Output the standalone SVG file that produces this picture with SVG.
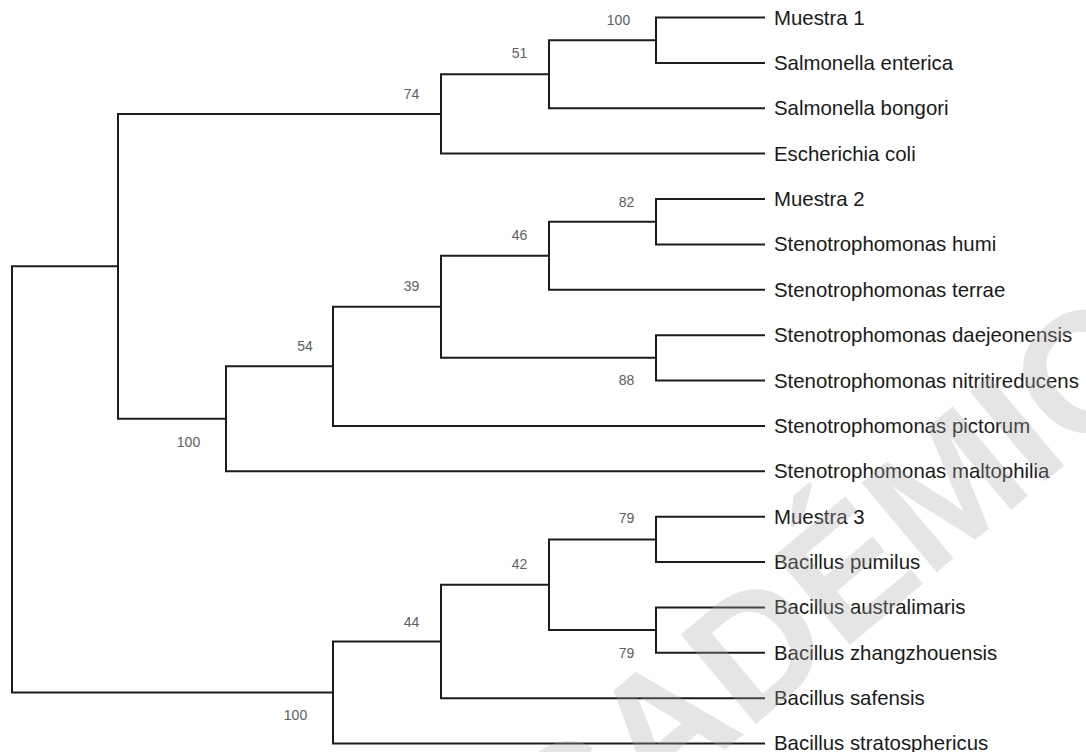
<svg xmlns="http://www.w3.org/2000/svg" width="1086" height="752" viewBox="0 0 1086 752">
<style>
.edge{fill:none;stroke:#1c1c1c;stroke-width:2;stroke-linecap:square;stroke-linejoin:miter}
.tip{font-family:"Liberation Sans",Arial,sans-serif;font-size:20.4px;fill:#1a1a1a}
.bs{font-family:"Liberation Sans",Arial,sans-serif;font-size:14px;fill:#5e5e63;text-anchor:middle}
.wm{font-family:"Liberation Sans",Arial,sans-serif;font-weight:bold;font-size:170px;fill:#a8a8a8;fill-opacity:0.3}
</style>
<rect x="0" y="0" width="1086" height="752" fill="#ffffff"/>
<g id="connectors">
<path class="edge" d="M764 17.5 H656 V62.9 H764"/>
<path class="edge" d="M656 40.2 H549 V108.3 H764"/>
<path class="edge" d="M549 74.25 H441 V153.6 H764"/>
<path class="edge" d="M764 199 H656 V244.4 H764"/>
<path class="edge" d="M656 221.7 H549 V289.8 H764"/>
<path class="edge" d="M764 335.2 H656 V380.5 H764"/>
<path class="edge" d="M549 255.75 H441 V357.85 H656"/>
<path class="edge" d="M441 306.8 H333 V425.9 H764"/>
<path class="edge" d="M333 366.35 H226 V471.3 H764"/>
<path class="edge" d="M441 113.9 H118 V418.8 H226"/>
<path class="edge" d="M764 516.7 H656 V562.1 H764"/>
<path class="edge" d="M764 607.4 H656 V652.8 H764"/>
<path class="edge" d="M656 539.4 H549 V630.1 H656"/>
<path class="edge" d="M549 584.75 H441 V698.2 H764"/>
<path class="edge" d="M441 641.5 H333 V743.6 H764"/>
<path class="edge" d="M118 266.35 H12 V692.55 H333"/>
</g>
<g id="tip-muestra1"><text class="tip" x="774" y="24.5">Muestra 1</text></g>
<g id="tip-salmonella-enterica"><text class="tip" x="774" y="69.9">Salmonella enterica</text></g>
<g id="tip-salmonella-bongori"><text class="tip" x="774" y="115.3">Salmonella bongori</text></g>
<g id="tip-escherichia-coli"><text class="tip" x="774" y="160.6">Escherichia coli</text></g>
<g id="tip-muestra2"><text class="tip" x="774" y="206">Muestra 2</text></g>
<g id="tip-steno-humi"><text class="tip" x="774" y="251.4">Stenotrophomonas humi</text></g>
<g id="tip-steno-terrae"><text class="tip" x="774" y="296.8">Stenotrophomonas terrae</text></g>
<g id="tip-steno-daejeonensis"><text class="tip" x="774" y="342.2">Stenotrophomonas daejeonensis</text></g>
<g id="tip-steno-nitritireducens"><text class="tip" x="774" y="387.5">Stenotrophomonas nitritireducens</text></g>
<g id="tip-steno-pictorum"><text class="tip" x="774" y="432.9">Stenotrophomonas pictorum</text></g>
<g id="tip-steno-maltophilia"><text class="tip" x="774" y="478.3">Stenotrophomonas maltophilia</text></g>
<g id="tip-muestra3"><text class="tip" x="774" y="523.7">Muestra 3</text></g>
<g id="tip-bacillus-pumilus"><text class="tip" x="774" y="569.1">Bacillus pumilus</text></g>
<g id="tip-bacillus-australimaris"><text class="tip" x="774" y="614.4">Bacillus australimaris</text></g>
<g id="tip-bacillus-zhangzhouensis"><text class="tip" x="774" y="659.8">Bacillus zhangzhouensis</text></g>
<g id="tip-bacillus-safensis"><text class="tip" x="774" y="705.2">Bacillus safensis</text></g>
<g id="tip-bacillus-stratosphericus"><text class="tip" x="774" y="749.5">Bacillus stratosphericus</text></g>
<g id="node-100-salmonella"><text class="bs" x="618.5" y="25">100</text></g>
<g id="node-51"><text class="bs" x="519.5" y="58.3">51</text></g>
<g id="node-74"><text class="bs" x="411.5" y="99.3">74</text></g>
<g id="node-82"><text class="bs" x="626.5" y="206.7">82</text></g>
<g id="node-46"><text class="bs" x="519.5" y="240">46</text></g>
<g id="node-39"><text class="bs" x="411.5" y="291">39</text></g>
<g id="node-54"><text class="bs" x="305" y="350.7">54</text></g>
<g id="node-88"><text class="bs" x="626.5" y="385">88</text></g>
<g id="node-100-steno"><text class="bs" x="188.5" y="446.7">100</text></g>
<g id="node-79-a"><text class="bs" x="626.5" y="523.3">79</text></g>
<g id="node-42"><text class="bs" x="519.5" y="569.3">42</text></g>
<g id="node-44"><text class="bs" x="411.5" y="626.7">44</text></g>
<g id="node-79-b"><text class="bs" x="626.5" y="658.3">79</text></g>
<g id="node-100-bacillus"><text class="bs" x="295.5" y="720">100</text></g>
<g id="watermark"><text class="wm" transform="translate(465 968) rotate(-40)">ACADÉMICO</text></g>
</svg>
